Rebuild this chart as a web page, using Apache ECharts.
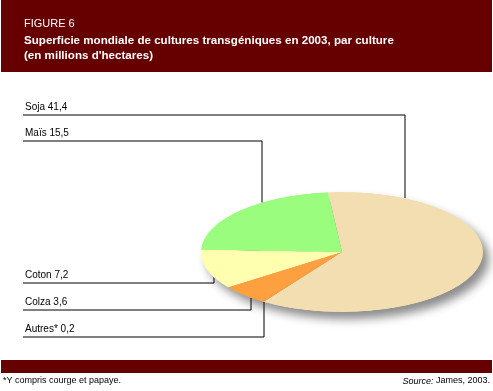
<!DOCTYPE html>
<html><head><meta charset="utf-8">
<script src="https://cdn.jsdelivr.net/npm/echarts@6/dist/echarts.min.js"></script>
<style>
html,body{margin:0;padding:0;background:#fff;}
#main{position:absolute;left:0;top:0;width:493px;height:391px;}
#wrap{position:absolute;left:0;top:0;width:493px;height:391px;filter:drop-shadow(6px 7px 5px rgba(0,0,0,0.45));pointer-events:none;}
#pie{position:absolute;left:0;top:102px;width:493px;height:300px;transform:scaleY(0.4255);transform-origin:50% 50%;}
</style></head>
<body>
<div id="main"></div>
<div id="wrap"><div id="pie"></div></div>
<script>
const categories = ['Soja', 'Autres*', 'Colza', 'Coton', 'Maïs'];
const values = [41.4, 0.2, 3.6, 7.2, 15.5];
const colors = ['#F2DEB0', '#FFA040', '#FFA040', '#FFFFB0', '#9BFD7E'];
const labelOrder = ['Soja', 'Maïs', 'Coton', 'Colza', 'Autres*'];
const titleLines = ['FIGURE 6', 'Superficie mondiale de cultures transgéniques en 2003, par culture', "(en millions d'hectares)"];
const footnote = '*Y compris courge et papaye.';
const sourceText = 'James, 2003.';

const FONT = 'Liberation Sans, Arial, sans-serif';
// ellipse geometry (on-screen)
const cx = 342, cy = 252, rx = 141, ry = 60;
function edgeY(x, top) {
  const d = (x - cx) / rx;
  const h = ry * Math.sqrt(Math.max(0, 1 - d * d));
  return top ? cy - h : cy + h;
}
// leader line layout: [label y line, vertical x, top edge?]
const leaders = {
  'Soja': [115, 405, true],
  'Maïs': [141, 262, true],
  'Coton': [283, 214, false],
  'Colza': [310, 251, false],
  'Autres*': [337, 264, false]
};
const fmt = v => String(v).replace('.', ',');

const graphic = [
  {type: 'rect', shape: {x: 1, y: 0, width: 491, height: 72}, style: {fill: '#660000'}},
  {type: 'text', x: 24, y: 24, style: {text: titleLines[0], fill: '#fff', font: '11px ' + FONT, textVerticalAlign: 'middle'}},
  {type: 'text', x: 24, y: 41, style: {text: titleLines[1], fill: '#fff', font: 'bold 11.6px ' + FONT, textVerticalAlign: 'middle'}},
  {type: 'text', x: 24, y: 56, style: {text: titleLines[2], fill: '#fff', font: 'bold 11.6px ' + FONT, textVerticalAlign: 'middle'}},
  {type: 'rect', shape: {x: 1, y: 360, width: 491, height: 13}, style: {fill: '#660000'}},
  {type: 'text', x: 3, y: 381, style: {text: footnote, fill: '#000', font: '9px ' + FONT, textVerticalAlign: 'middle'}},
  {type: 'text', x: 490, y: 381, style: {text: '{i|Source:} ' + sourceText, fill: '#000', font: '9px ' + FONT, textAlign: 'right', textVerticalAlign: 'middle', rich: {i: {fontStyle: 'italic', fontSize: 9, fontFamily: FONT}}}}
];
labelOrder.forEach(name => {
  const idx = categories.indexOf(name);
  const [ly, vx, top] = leaders[name];
  const ey = edgeY(vx, top);
  graphic.push({type: 'polyline', shape: {points: [[23, ly], [vx, ly], [vx, ey]]}, style: {stroke: '#000', lineWidth: 1, fill: null}});
  graphic.push({type: 'text', x: 25, y: ly - 8, style: {text: name + ' ' + fmt(values[idx]), fill: '#000', font: '10px ' + FONT, textVerticalAlign: 'middle'}});
});

const main = echarts.init(document.getElementById('main'), null, {renderer: 'canvas'});
main.setOption({animation: false, backgroundColor: '#fff', graphic: graphic});

const pie = echarts.init(document.getElementById('pie'), null, {renderer: 'canvas'});
pie.setOption({
  animation: false,
  series: [{
    type: 'pie',
    center: [cx, 150],
    radius: [0, rx],
    startAngle: 95.7,
    clockwise: true,
    silent: true,
    label: {show: false},
    labelLine: {show: false},
    itemStyle: {borderWidth: 0},
    data: categories.map((c, i) => ({name: c, value: values[i], itemStyle: {color: colors[i]}}))
  }]
});
</script>
</body></html>
